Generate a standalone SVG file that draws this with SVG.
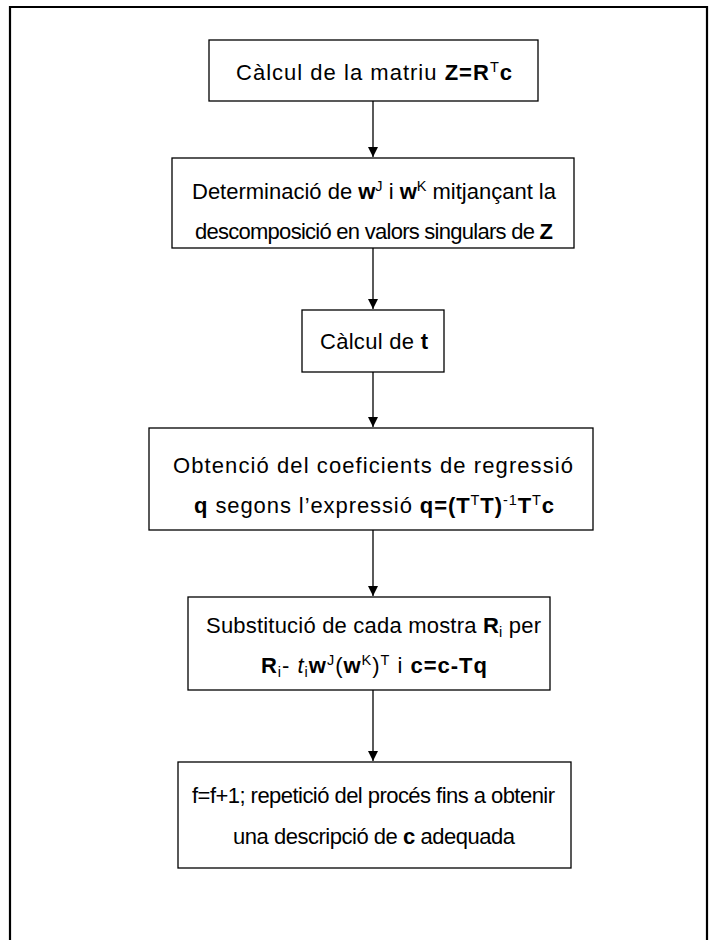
<svg xmlns="http://www.w3.org/2000/svg" width="716" height="940" viewBox="0 0 716 940">
<style>
.box{fill:#fff;stroke:#000;stroke-width:1.3}
.t{font-family:"Liberation Sans",Arial,sans-serif;font-size:22px;fill:#000;text-anchor:middle}
.b{font-weight:bold}
.sup{font-size:14.5px;baseline-shift:8px}
.sub{font-size:14.5px;baseline-shift:-4px}
.con{stroke:#000;stroke-width:1.3;fill:none;marker-end:url(#ah)}
</style>
<defs>
<marker id="ah" markerUnits="userSpaceOnUse" markerWidth="10" markerHeight="11" refX="10" refY="5" orient="auto">
<path d="M0,0 L10,5 L0,10 z" fill="#000"/>
</marker>
</defs>
<rect width="716" height="940" fill="#fff"/>
<path d="M10,945 V7 H707 V945" fill="none" stroke="#000" stroke-width="2.2"/>
<g id="connectors">
<line class="con" x1="373" y1="101" x2="373" y2="157"/>
<line class="con" x1="373" y1="248" x2="373" y2="309"/>
<line class="con" x1="373" y1="372" x2="373" y2="427"/>
<line class="con" x1="373" y1="530" x2="373" y2="596"/>
<line class="con" x1="373" y1="690" x2="373" y2="761"/>
</g>
<g id="n1">
<rect class="box" x="209" y="40" width="329" height="61"/>
<text class="t" x="374" y="80" textLength="276">Càlcul de la matriu <tspan class="b">Z=R</tspan><tspan class="sup">T</tspan><tspan class="b">c</tspan></text>
</g>
<g id="n2">
<rect class="box" x="172" y="158" width="402" height="90"/>
<text class="t" x="374" y="199" textLength="364">Determinació de <tspan class="b">w</tspan><tspan class="sup">J</tspan> i <tspan class="b">w</tspan><tspan class="sup">K</tspan> mitjançant la</text>
<text class="t" x="374" y="239" textLength="358">descomposició en valors singulars de <tspan class="b">Z</tspan></text>
</g>
<g id="n3">
<rect class="box" x="302" y="310" width="142" height="62"/>
<text class="t" x="374" y="349" textLength="108">Càlcul de <tspan class="b">t</tspan></text>
</g>
<g id="n4">
<rect class="box" x="149" y="428" width="444" height="102"/>
<text class="t" x="373" y="473" textLength="400">Obtenció del coeficients de regressió</text>
<text class="t" x="374" y="513" textLength="360"><tspan class="b">q</tspan> segons l’expressió <tspan class="b">q=(T</tspan><tspan class="sup">T</tspan><tspan class="b">T)</tspan><tspan class="sup">-1</tspan><tspan class="b">T</tspan><tspan class="sup">T</tspan><tspan class="b">c</tspan></text>
</g>
<g id="n5">
<rect class="box" x="188" y="597" width="362" height="93"/>
<text class="t" x="373.5" y="633" textLength="335">Substitució de cada mostra <tspan class="b">R</tspan><tspan class="sub">i</tspan> per</text>
<text class="t" x="374" y="673" textLength="226"><tspan class="b">R</tspan><tspan class="sub">i</tspan>- <tspan font-style="italic">t</tspan><tspan class="sub">i</tspan><tspan class="b">w</tspan><tspan class="sup">J</tspan>(<tspan class="b">w</tspan><tspan class="sup">K</tspan>)<tspan class="sup">T</tspan> i <tspan class="b">c=c-Tq</tspan></text>
</g>
<g id="n6">
<rect class="box" x="178" y="762" width="393" height="106"/>
<text class="t" x="373.5" y="803" textLength="363">f=f+1; repetició del procés fins a obtenir</text>
<text class="t" x="374" y="844" textLength="282">una descripció de <tspan class="b">c</tspan> adequada</text>
</g>
</svg>
